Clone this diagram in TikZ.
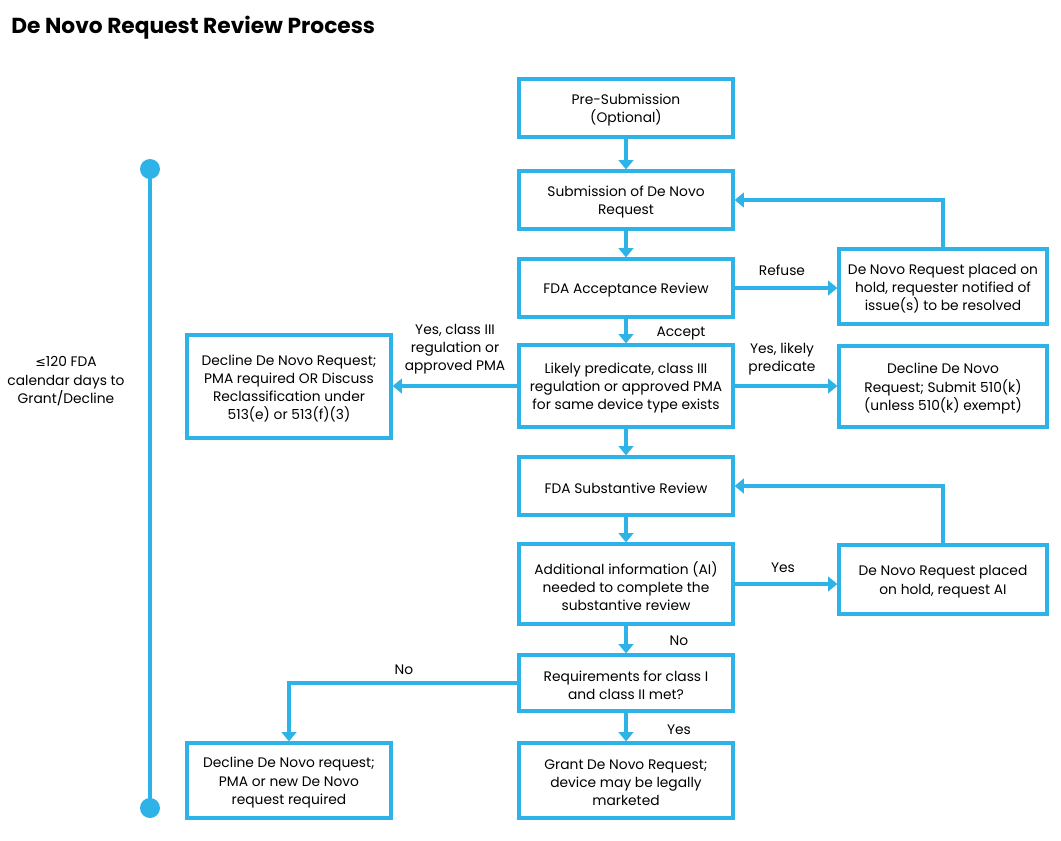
\documentclass[tikz,border=0pt]{standalone}
\usepackage{fontspec}
\setmainfont{Poppins}
\newfontfamily\symfont{DejaVu Sans}
\usetikzlibrary{arrows.meta}
\definecolor{fblue}{HTML}{2EB3E8}
\newcommand\flowbox[5]{%
  \node[box,minimum width=#3*0.75pt,minimum height=#4*0.75pt] (#1) at (#2) {};
  \node[lbl] (#1t) at (#1) {#5};}
\begin{document}
\begin{tikzpicture}[x=0.75pt,y=-0.75pt,
  box/.style={draw=fblue,line width=2.4pt,inner sep=0pt},
  lbl/.style={align=center,inner sep=0pt,yshift=-1.6pt,font=\fontsize{10.35}{13.6}\selectfont},
  conn/.style={draw=fblue,line width=2.4pt,-{Triangle[width=11pt,length=7pt]}}]
\useasboundingbox (0,0) rectangle (1061,840);
% title
\node[anchor=west,inner sep=0pt,font=\fontsize{16.3}{20}\selectfont\bfseries] (title) at (11,28) {De Novo Request Review Process};
% timeline
\coordinate (tlA) at (150,169);
\coordinate (tlB) at (150,808);
\draw[fblue,line width=3.4pt] (tlA) -- (tlB);
\fill[fblue] (tlA) circle (10);
\fill[fblue] (tlB) circle (10);
\node[lbl] (days) at (66,379) {{\symfont\fontsize{9.5}{13.6}\selectfont ≤}120 FDA\\calendar days to\\Grant/Decline};
% main column
\flowbox{pre}{626,108}{214}{58}{Pre-Submission\\(Optional)}
\flowbox{sub}{626,200}{214}{58}{Submission of De Novo\\Request}
\flowbox{acc}{626,288}{214}{58}{FDA Acceptance Review}
\flowbox{lik}{626,386}{214}{82}{Likely predicate, class III\\regulation or approved PMA\\for same device type exists}
\flowbox{subst}{626,486}{214}{58}{FDA Substantive Review}
\flowbox{ai}{626,584}{214}{80}{Additional information (AI)\\needed to complete the\\substantive review}
\flowbox{req}{626,683}{214}{56}{Requirements for class I\\and class II met?}
\flowbox{grant}{626,780.5}{214}{75}{Grant De Novo Request;\\device may be legally\\marketed}
% right column
\flowbox{hold1}{943,286.5}{208}{75}{De Novo Request placed on\\hold, requester notified of\\issue(s) to be resolved}
\flowbox{dec510}{943,386.5}{208}{81}{Decline De Novo\\Request; Submit 510(k)\\(unless 510(k) exempt)}
\flowbox{holdai}{943,579.5}{208}{69}{De Novo Request placed\\on hold, request AI}
% left column
\flowbox{decpma}{289,386.5}{204}{103}{Decline De Novo Request;\\PMA required OR Discuss\\Reclassification under\\513(e) or 513(f)(3)}
\flowbox{decnew}{289,780.5}{204}{75}{Decline De Novo request;\\PMA or new De Novo\\request required}
% connectors
\draw[conn] (pre) -- (sub);
\draw[conn] (sub) -- (acc);
\draw[conn] (acc) -- (lik);
\draw[conn] (acc.east) -- (hold1.west |- acc.east);
\draw[conn] (hold1.north) -- (hold1.north |- sub.east) -- (sub.east);
\draw[conn] (lik.east) -- (dec510.west |- lik.east);
\draw[conn] (lik.west) -- (decpma.east |- lik.west);
\draw[conn] (lik) -- (subst);
\draw[conn] (subst) -- (ai);
\draw[conn] (ai.east) -- (holdai.west |- ai.east);
\draw[conn] (holdai.north) -- (holdai.north |- subst.east) -- (subst.east);
\draw[conn] (ai) -- (req);
\draw[conn] (req) -- (grant);
\draw[conn] (req.west) -- (decnew.north |- req.west) -- (decnew.north);
% labels
\node[lbl] (lAccept) at (681,331) {Accept};
\node[lbl] (lRefuse) at (782,268) {Refuse};
\node[lbl] (lLikely) at (782,357) {Yes, likely\\predicate};
\node[lbl] (lClass) at (455,347) {Yes, class III\\regulation or\\approved PMA};
\node[lbl] (lYesAI) at (783,566) {Yes};
\node[lbl] (lNoAI) at (679,639) {No};
\node[lbl] (lYesG) at (679,728) {Yes};
\node[lbl] (lNoReq) at (404,668) {No};
\end{tikzpicture}
\end{document}
